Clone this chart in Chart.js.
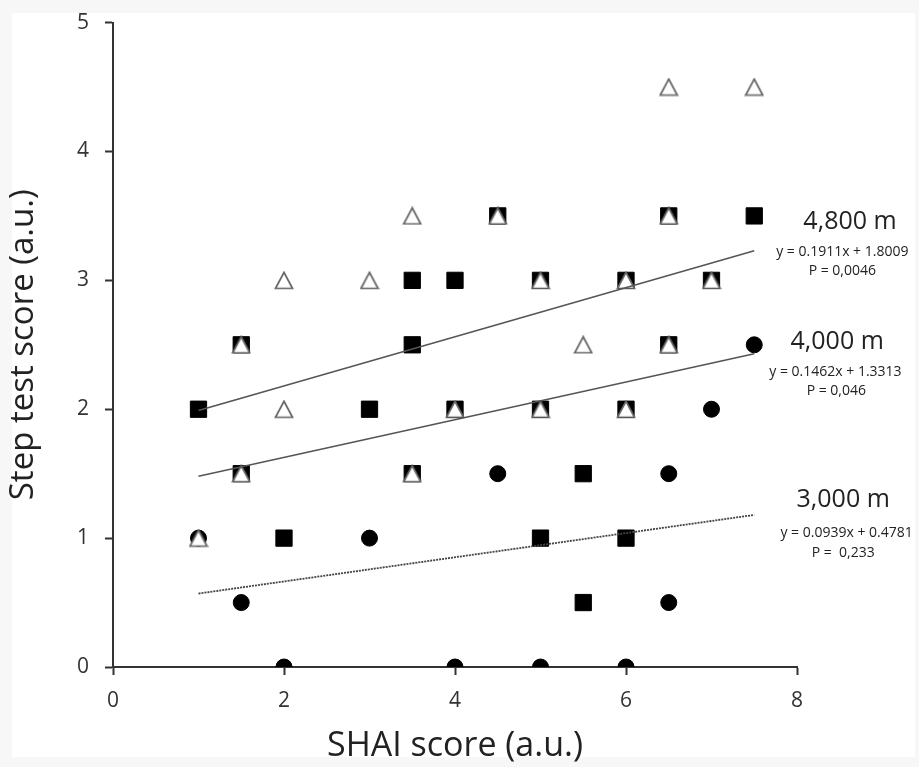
<!DOCTYPE html>
<html lang="en">
<head>
  <meta charset="UTF-8">
  <title>Step test vs SHAI score</title>
  <style>
    html, body {
      margin: 0;
      padding: 0;
      background: #f7f7f7;
    }
    #wrap {
      position: relative;
      width: 919px;
      height: 767px;
      overflow: hidden;
    }
    #chartCanvas {
      position: absolute;
      left: 0;
      top: -6px;
    }
  </style>
  <script src="https://cdn.jsdelivr.net/npm/chart.js"></script>
</head>
<body>
  <div id="wrap">
    <canvas id="chartCanvas" width="919" height="773"></canvas>
  </div>

  <script>
    // 3,000 m (black circles)
    const x3000 = [2, 4, 5, 6, 1.5, 6.5, 1, 3, 4.5, 6.5, 7, 7.5];
    const y3000 = [0, 0, 0, 0, 0.5, 0.5, 1, 1, 1.5, 1.5, 2, 2.5];

    // 4,000 m (black squares)
    const x4000 = [4.5, 6.5, 7.5, 3.5, 4, 5, 6, 7, 1.5, 3.5, 6.5, 1, 3, 4, 5, 6, 1.5, 3.5, 5.5, 2, 5, 6, 5.5];
    const y4000 = [3.5, 3.5, 3.5, 3, 3, 3, 3, 3, 2.5, 2.5, 2.5, 2, 2, 2, 2, 2, 1.5, 1.5, 1.5, 1, 1, 1, 0.5];

    // 4,800 m (open triangles)
    const x4800 = [6.5, 7.5, 3.5, 4.5, 6.5, 2, 3, 5, 6, 7, 1.5, 5.5, 6.5, 2, 4, 5, 6, 1.5, 3.5, 1];
    const y4800 = [4.5, 4.5, 3.5, 3.5, 3.5, 3, 3, 3, 3, 3, 2.5, 2.5, 2.5, 2, 2, 2, 2, 1.5, 1.5, 1];

    // trend line end points
    const trendX = [1, 7.5];
    const trend4800 = [1.99, 3.23];
    const trend4000 = [1.48, 2.43];
    const trend3000 = [0.57, 1.18];

    const xTicks = [0, 2, 4, 6, 8];
    const yTicks = [0, 1, 2, 3, 4, 5];

    const altLabels = ["4,800 m", "4,000 m", "3,000 m"];
    const eqLabels = ["y = 0.1911x + 1.8009", "y = 0.1462x + 1.3313", "y = 0.0939x + 0.4781"];
    const pLabels = ["P = 0,0046", "P = 0,046", "P =  0,233"];

    function pts(xs, ys) {
      return xs.map((x, i) => ({ x: x, y: ys[i] }));
    }

    // open triangle marker, centred on its bounding box
    function triangleMarker() {
      const c = document.createElement("canvas");
      c.width = 20;
      c.height = 19;
      const t = c.getContext("2d");
      t.beginPath();
      t.moveTo(10, 1.5);
      t.lineTo(18.5, 17.5);
      t.lineTo(1.5, 17.5);
      t.closePath();
      t.fillStyle = "#fff";
      t.fill();
      t.lineWidth = 1.7;
      t.strokeStyle = "#666";
      t.stroke();
      return c;
    }

    // white sheet behind the chart (canvas sits 6px above the page top)
    const panelBg = {
      id: "panelBg",
      beforeDraw(chart) {
        const ctx = chart.ctx;
        ctx.save();
        ctx.fillStyle = "#ffffff";
        ctx.fillRect(12, 19, 903, 744);
        ctx.restore();
      }
    };

    // text beside the trend lines, anchored in data units
    const notes = {
      id: "notes",
      afterDraw(chart) {
        const ctx = chart.ctx;
        const xs = chart.scales.x, ys = chart.scales.y;
        const big = [[8.62, 3.455], [8.47, 2.52], [8.54, 1.30]];
        const eq = [[8.53, 3.22], [8.45, 2.29], [8.58, 1.04]];
        const pv = [[8.53, 3.07], [8.46, 2.14], [8.54, 0.885]];
        ctx.save();
        ctx.textAlign = "center";
        ctx.textBaseline = "middle";
        ctx.fillStyle = "#222";
        for (let i = 0; i < 3; i++) {
          ctx.font = "25px 'Open Sans'";
          ctx.fillText(altLabels[i], xs.getPixelForValue(big[i][0]), ys.getPixelForValue(big[i][1]));
          ctx.font = "14px 'Open Sans'";
          ctx.fillText(eqLabels[i], xs.getPixelForValue(eq[i][0]), ys.getPixelForValue(eq[i][1]));
          ctx.fillText(pLabels[i], xs.getPixelForValue(pv[i][0]), ys.getPixelForValue(pv[i][1]));
        }
        ctx.restore();
      }
    };

    const ctx = document.getElementById("chartCanvas").getContext("2d");

    new Chart(ctx, {
      type: "scatter",
      data: {
        datasets: [
          {
            label: "4,800 m trend",
            data: pts(trendX, trend4800),
            showLine: true,
            borderColor: "#555",
            borderWidth: 1.5,
            pointRadius: 0,
            order: 0
          },
          {
            label: "4,000 m trend",
            data: pts(trendX, trend4000),
            showLine: true,
            borderColor: "#555",
            borderWidth: 1.5,
            pointRadius: 0,
            order: 0
          },
          {
            label: "3,000 m trend",
            data: pts(trendX, trend3000),
            showLine: true,
            borderColor: "#444",
            borderWidth: 1.8,
            borderDash: [2, 1],
            pointRadius: 0,
            order: 0
          },
          {
            label: "4,800 m",
            data: pts(x4800, y4800),
            pointStyle: triangleMarker(),
            pointRadius: 10,
            order: 1
          },
          {
            label: "4,000 m",
            data: pts(x4000, y4000),
            pointStyle: "rect",
            pointRadius: 11.5,
            backgroundColor: "#000",
            borderColor: "#000",
            borderWidth: 1,
            order: 2
          },
          {
            label: "3,000 m",
            data: pts(x3000, y3000),
            pointStyle: "circle",
            pointRadius: 8,
            backgroundColor: "#000",
            borderColor: "#000",
            borderWidth: 1,
            order: 3
          }
        ]
      },
      options: {
        responsive: false,
        animation: false,
        layout: {
          padding: { top: 11, right: 122, left: 0, bottom: 0 }
        },
        plugins: {
          legend: { display: false },
          tooltip: { enabled: false }
        },
        scales: {
          x: {
            type: "linear",
            min: 0,
            max: 8,
            afterFit(scale) { scale.height = 100; },
            afterBuildTicks(scale) { scale.ticks = xTicks.map(v => ({ value: v })); },
            grid: {
              drawOnChartArea: false,
              drawTicks: true,
              tickLength: 8,
              tickWidth: 2,
              tickColor: "#333"
            },
            border: { color: "#333", width: 2 },
            ticks: {
              padding: 13,
              color: "#333",
              font: { family: "Open Sans", size: 21 }
            },
            title: {
              display: true,
              text: "SHAI score (a.u.)",
              color: "#222",
              font: { family: "Open Sans", size: 34, lineHeight: 1.2 },
              padding: { top: 0, bottom: 0 }
            }
          },
          y: {
            type: "linear",
            min: 0,
            max: 5,
            afterFit(scale) { scale.width = 113; },
            afterBuildTicks(scale) { scale.ticks = yTicks.map(v => ({ value: v })); },
            grid: {
              drawOnChartArea: false,
              drawTicks: true,
              tickLength: 8,
              tickWidth: 2,
              tickColor: "#333"
            },
            border: { color: "#333", width: 2 },
            ticks: {
              padding: 16,
              color: "#333",
              font: { family: "Open Sans", size: 21 }
            },
            title: {
              display: true,
              text: "Step test score (a.u.)",
              color: "#222",
              font: { family: "Open Sans", size: 33, lineHeight: 1.2 },
              padding: { top: 4, bottom: 0 }
            }
          }
        }
      },
      plugins: [panelBg, notes]
    });
  </script>
</body>
</html>
